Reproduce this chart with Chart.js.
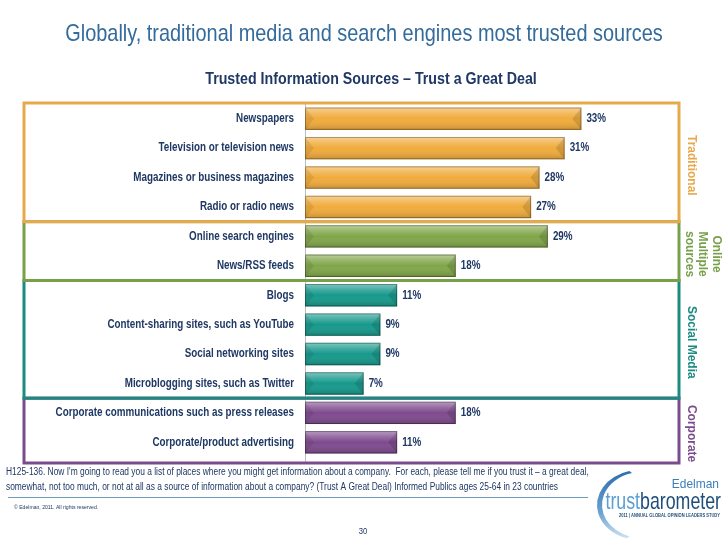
<!DOCTYPE html>
<html>
<head>
<meta charset="utf-8">
<script src="https://cdn.jsdelivr.net/npm/chart.js@4"></script>
<style>
  body { margin: 0; background: #fff; }
  #wrap { width: 728px; height: 546px; }
</style>
</head>
<body>
<div id="wrap"><canvas id="myChart" width="728" height="546"></canvas></div>
<script>
// categories and values
const categories = [
  "Newspapers",
  "Television or television news",
  "Magazines or business magazines",
  "Radio or radio news",
  "Online search engines",
  "News/RSS feeds",
  "Blogs",
  "Content-sharing sites, such as YouTube",
  "Social networking sites",
  "Microblogging sites, such as Twitter",
  "Corporate communications such as press releases",
  "Corporate/product advertising"
];
const values = [33, 31, 28, 27, 29, 18, 11, 9, 9, 7, 18, 11];
const groupOf = [0, 0, 0, 0, 1, 1, 2, 2, 2, 2, 3, 3];
const groupNames = [["Traditional"], ["Online", "Multiple", "sources"], ["Social Media"], ["Corporate"]];
const groupColors = ["#E6A94C", "#77A04A", "#1B8A80", "#7B4C8B"];
const barColors = ["#F0AB3C", "#80A649", "#17998C", "#7E4B8E"];

const SANS = "'Liberation Sans', Arial, sans-serif";
const NAVY = "#1F3864";

// no Arial Narrow here, so squeeze Liberation Sans sideways
function narrowText(c, txt, x, y, font, sx, align) {
  c.save();
  c.font = font;
  c.textAlign = align;
  c.translate(x, y);
  c.scale(sx, 1);
  c.fillText(txt, 0, 0);
  c.restore();
}

const ctx = document.getElementById('myChart');

// bevel look on each bar + value labels + category labels
const barDecor = {
  id: 'barDecor',
  afterDatasetsDraw(chart) {
    const c = chart.ctx;
    const meta = chart.getDatasetMeta(0);
    const yScale = chart.scales.y;
    meta.data.forEach((bar, i) => {
      const h = bar.height;
      const top = bar.y - h / 2, bottom = bar.y + h / 2;
      const left = bar.base, right = bar.x;
      c.save();
      const g = c.createLinearGradient(0, top, 0, bottom);
      g.addColorStop(0, 'rgba(255,255,255,0.45)');
      g.addColorStop(0.25, 'rgba(255,255,255,0.2)');
      g.addColorStop(0.5, 'rgba(255,255,255,0)');
      g.addColorStop(1, 'rgba(0,0,0,0.18)');
      c.fillStyle = g;
      c.fillRect(left, top, right - left, h);
      c.beginPath();
      c.moveTo(left, top);
      c.lineTo(left + h * 0.4, bar.y);
      c.lineTo(left, bottom);
      c.closePath();
      c.fillStyle = 'rgba(0,0,0,0.08)';
      c.fill();
      c.beginPath();
      c.moveTo(right, top);
      c.lineTo(right - h * 0.4, bar.y);
      c.lineTo(right, bottom);
      c.closePath();
      c.fillStyle = 'rgba(0,0,0,0.12)';
      c.fill();
      c.strokeStyle = 'rgba(0,0,0,0.3)';
      c.lineWidth = 1;
      c.strokeRect(left + 0.5, top + 0.5, right - left - 1, h - 1);
      c.fillStyle = NAVY;
      c.textBaseline = 'middle';
      narrowText(c, values[i] + '%', right + 5, bar.y, "bold 12px " + SANS, 0.82, 'left');
      c.restore();
    });
    // category labels placed on the library's own ticks
    c.save();
    c.fillStyle = NAVY;
    c.textBaseline = 'middle';
    yScale.ticks.forEach((t, i) => {
      narrowText(c, chart.data.labels[t.value], 294, yScale.getPixelForTick(i), "bold 12px " + SANS, 0.82, 'right');
    });
    c.restore();
  }
};

// group frames, side labels, titles and footer
const slide = {
  id: 'slide',
  afterDraw(chart) {
    const c = chart.ctx;
    const y = chart.scales.y;
    const step = y.getPixelForValue(1) - y.getPixelForValue(0);
    const starts = [0, 4, 6, 10, 12];
    const frameL = 24, frameR = 679;
    c.save();
    // axis line runs down to the frame bottom
    c.strokeStyle = '#BDBDBD';
    c.lineWidth = 1;
    c.beginPath();
    c.moveTo(305.5, y.bottom);
    c.lineTo(305.5, y.bottom + 5);
    c.stroke();
    for (let gi = 3; gi >= 0; gi--) {
      const t = y.getPixelForValue(starts[gi]) - step / 2 - (gi === 0 ? 1 : 0);
      let b = y.getPixelForValue(starts[gi + 1] - 1) + step / 2;
      if (gi === 3) b += 6;
      c.strokeStyle = groupColors[gi];
      c.lineWidth = 3;
      c.strokeRect(frameL, t, frameR - frameL, b - t);
      const mid = (t + b) / 2 + 3;
      const lines = groupNames[gi];
      c.fillStyle = groupColors[gi];
      c.font = "bold 12px " + SANS;
      c.textAlign = 'center';
      c.textBaseline = 'middle';
      lines.forEach((txt, k) => {
        const x = lines.length > 1 ? 716 - k * 13.5 : 691;
        c.save();
        c.translate(x, mid);
        c.rotate(Math.PI / 2);
        c.fillText(txt, 0, 0);
        c.restore();
      });
    }
    // titles
    c.textBaseline = 'alphabetic';
    c.fillStyle = '#336B9C';
    narrowText(c, "Globally, traditional media and search engines most trusted sources", 364, 41, "24px " + SANS, 0.83, 'center');
    c.fillStyle = NAVY;
    narrowText(c, "Trusted Information Sources \u2013 Trust a Great Deal", 371, 84, "bold 16px " + SANS, 0.89, 'center');
    // footnote
    narrowText(c, "H125-136. Now I'm going to read you a list of places where you might get information about a company.  For each, please tell me if you trust it \u2013 a great deal,", 6, 475, "10px " + SANS, 0.84, 'left');
    narrowText(c, "somewhat, not too much, or not at all as a source of information about a company? (Trust A Great Deal) Informed Publics ages 25-64 in 23 countries", 6, 490, "10px " + SANS, 0.84, 'left');
    c.strokeStyle = '#6B9CB9';
    c.lineWidth = 1;
    c.beginPath();
    c.moveTo(8, 497.5);
    c.lineTo(588, 497.5);
    c.stroke();
    narrowText(c, "\u00A9 Edelman, 2011. All rights reserved.", 14, 509, "6px " + SANS, 0.85, 'left');
    narrowText(c, "30", 363, 534, "9px " + SANS, 0.85, 'center');
    // logo
    const sg = c.createLinearGradient(0, 468, 0, 542);
    sg.addColorStop(0, '#2A6AAA');
    sg.addColorStop(0.6, '#6AA2D2');
    sg.addColorStop(1, '#DCEAF5');
    c.fillStyle = sg;
    c.beginPath();
    c.ellipse(640, 505, 43, 35, 0, Math.PI * 1.42, Math.PI * 0.6, true);
    c.ellipse(642, 505, 40, 33, 0, Math.PI * 0.6, Math.PI * 1.42, false);
    c.closePath();
    c.fill();
    c.fillStyle = '#3C7DBA';
    narrowText(c, "Edelman", 719, 488, "13px " + SANS, 0.92, 'right');
    c.font = "24px " + SANS;
    const wBaro = c.measureText("barometer").width * 0.74;
    c.fillStyle = '#1F4E7A';
    narrowText(c, "barometer", 721, 509, "24px " + SANS, 0.74, 'right');
    c.fillStyle = '#5AA0D6';
    narrowText(c, "trust", 721 - wBaro, 509, "24px " + SANS, 0.74, 'right');
    c.fillStyle = '#1F4E7A';
    narrowText(c, "2011 | ANNUAL GLOBAL OPINION LEADERS STUDY", 720, 517, "bold 4.5px " + SANS, 0.9, 'right');
    c.restore();
  }
};

new Chart(ctx, {
  type: 'bar',
  data: {
    labels: categories,
    datasets: [{
      data: values,
      backgroundColor: groupOf.map(g => barColors[g]),
      borderWidth: 0,
      barPercentage: 0.76,
      categoryPercentage: 1
    }]
  },
  options: {
    indexAxis: 'y',
    responsive: false,
    animation: false,
    events: [],
    layout: { padding: { left: 0, top: 104, bottom: 89, right: 88 } },
    plugins: { legend: { display: false }, tooltip: { enabled: false } },
    scales: {
      x: { display: false, min: 0, max: 40 },
      y: {
        grid: { display: false },
        border: { display: true, color: '#BDBDBD', width: 1 },
        ticks: { display: false },
        afterFit(scale) { scale.width = 305; }
      }
    }
  },
  plugins: [barDecor, slide]
});
</script>
</body>
</html>
